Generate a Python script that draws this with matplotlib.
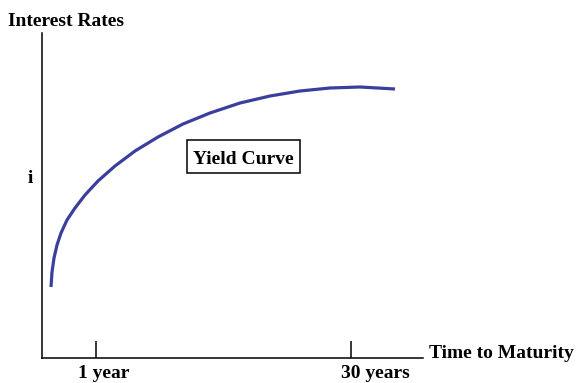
import matplotlib
matplotlib.use("Agg")
import matplotlib.pyplot as plt
from matplotlib.patches import Rectangle
from matplotlib.transforms import blended_transform_factory

# Yield curve sketch: horizontal = time to maturity (schematic units),
# vertical = interest rate (schematic units)
maturity = [9, 10, 12, 15, 19, 25, 33, 43, 56, 73, 93, 116, 141, 168, 198, 228, 258, 288, 318, 353]
rate = [71, 86, 100, 113, 125, 138, 150, 163, 177, 192, 207, 221, 234, 245, 255, 262, 267, 270, 271, 269]

tick_positions = [54, 309]
tick_labels = ["1 year", "30 years"]
label_shift = [8, 24]  # labels sit a little right of their tick marks

plt.rcParams["font.family"] = ["Liberation Serif", "DejaVu Serif"]
plt.rcParams["font.weight"] = "bold"
FS = 14

W, H = 580, 383
fig = plt.figure(figsize=(W / 100, H / 100), dpi=100)
ax = fig.add_axes([42 / W, (H - 358) / H, 381 / W, 325 / H])

ax.plot(maturity, rate, color="#3a3f9e", lw=2.3, solid_capstyle="butt",
        solid_joinstyle="round")

ax.set_xlim(0, 381)
ax.set_ylim(0, 325)
for s in ("top", "right"):
    ax.spines[s].set_visible(False)
for s in ("left", "bottom"):
    ax.spines[s].set_linewidth(1.1)
    ax.spines[s].set_color("black")

ax.set_xticks(tick_positions)
ax.set_xticklabels([])
ax.tick_params(axis="x", direction="in", length=12.5, width=1.1)
ax.set_yticks([])

trans = blended_transform_factory(ax.transData, fig.transFigure)
for pos, lab, dx in zip(tick_positions, tick_labels, label_shift):
    ax.text(pos + dx, 1 - 378.5 / H, lab, transform=trans, fontsize=FS,
            fontweight="bold", ha="center", va="baseline", clip_on=False)

fig.text(8 / W, 1 - 26 / H, "Interest Rates", fontsize=FS, fontweight="bold",
         ha="left", va="baseline")
fig.text(429 / W, 1 - 358 / H, "Time to Maturity", fontsize=FS, fontweight="bold",
         ha="left", va="baseline")
fig.text(30 / W, 1 - 183 / H, "i", fontsize=FS, fontweight="bold",
         ha="center", va="baseline")

# labelled box next to the curve
ax.add_patch(Rectangle((145, 185), 113, 33, fill=True, fc="white", ec="black",
                       lw=1.1, zorder=3))
ax.text(201.5, 194, "Yield Curve", fontsize=FS, fontweight="bold",
        ha="center", va="baseline", zorder=4)

fig.savefig("out.png", dpi=100)
